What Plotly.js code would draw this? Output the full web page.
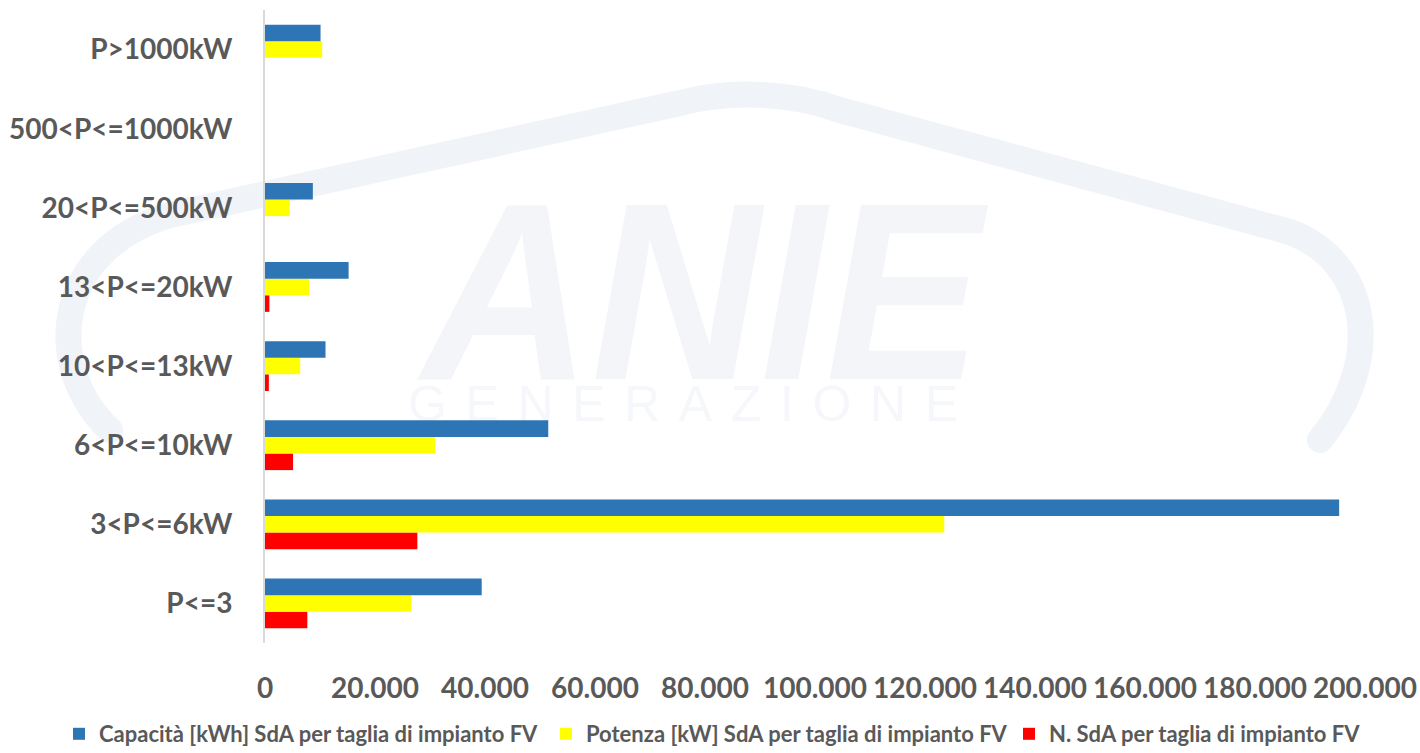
<!DOCTYPE html>
<html>
<head>
<meta charset="utf-8">
<script src="https://cdn.plot.ly/plotly-3.0.1.min.js"></script>
<style>html,body{margin:0;padding:0;background:#fff;}#chart{width:1420px;height:753px;}</style>
</head>
<body>
<div id="chart"></div>
<script>
// Categories (bottom to top)
const categories = ["P<=3", "3<P<=6kW", "6<P<=10kW", "10<P<=13kW", "13<P<=20kW", "20<P<=500kW", "500<P<=1000kW", "P>1000kW"];
// Series values
const capacita = [39400, 195300, 51500, 11000, 15200, 8700, 0, 10100];
const potenza  = [26600, 123500, 30900, 6400, 8000, 4500, 0, 10400];
const numero   = [7700, 27700, 5100, 700, 800, 0, 0, 0];
// Series names
const nameCap = "Capacità [kWh] SdA per taglia di impianto FV";
const namePot = "Potenza [kW] SdA per taglia di impianto FV";
const nameNum = "N. SdA per taglia di impianto FV";
// X tick values
const xTicks = [0, 20000, 40000, 60000, 80000, 100000, 120000, 140000, 160000, 180000, 200000];

const font = "Lato, 'Open Sans', sans-serif";
const grey = "#595959";

const traces = [
  {type: "bar", orientation: "h", name: nameNum, y: categories, x: numero, marker: {color: "#FF0000"}, legend: "legend3"},
  {type: "bar", orientation: "h", name: namePot, y: categories, x: potenza, marker: {color: "#FFFF00"}, legend: "legend2"},
  {type: "bar", orientation: "h", name: nameCap, y: categories, x: capacita, marker: {color: "#2E75B6"}, legend: "legend"}
];

// Faint background logo (watermark), drawn behind the bars
const wmSvg =
  "<svg xmlns='http://www.w3.org/2000/svg' width='1420' height='753' viewBox='0 0 1420 753'>" +
  "<path d='M 110 430 C 45 370 50 250 170 215 L 680 103 C 730 90 790 92 840 110 L 1290 232 C 1370 262 1385 360 1320 440' fill='none' stroke='#f0f3f8' stroke-width='26' stroke-linecap='round'/>" +
  "<text x='702' y='379' text-anchor='middle' font-family='Liberation Sans, sans-serif' font-weight='bold' font-style='italic' font-size='252' fill='#f3f5f9' textLength='560' lengthAdjust='spacingAndGlyphs'>ANIE</text>" +
  "<text x='683' y='421' text-anchor='middle' font-family='Liberation Sans, sans-serif' font-size='50' fill='#f5f7fa' textLength='550' lengthAdjust='spacing'>GENERAZIONE</text>" +
  "</svg>";
const wmSrc = "data:image/svg+xml;charset=utf-8," + encodeURIComponent(wmSvg);

const legendFont = {family: font, size: 22, color: grey, weight: "bold"};
function legendAt(px) {
  return {
    orientation: "h", xref: "container", yref: "container",
    x: px / 1420, xanchor: "left", y: 1 - 734 / 753, yanchor: "middle",
    font: legendFont, itemwidth: 30, bgcolor: "rgba(0,0,0,0)"
  };
}

const layout = {
  width: 1420, height: 753,
  margin: {l: 265, r: 55, t: 10, b: 110},
  paper_bgcolor: "#ffffff", plot_bgcolor: "rgba(0,0,0,0)",
  separators: ",.",
  barmode: "group",
  bargap: 0.37,
  bargroupgap: 0,
  hovermode: false,
  showlegend: true,
  font: {family: font, color: grey},
  xaxis: {
    range: [0, 200000], tickvals: xTicks, tickformat: ",d",
    showgrid: false, zeroline: false, showline: false, ticks: "",
    tickfont: {family: font, size: 28, color: grey, weight: "bold"},
    ticklabelstandoff: 26, fixedrange: true
  },
  yaxis: {
    type: "category", categoryorder: "array", categoryarray: categories,
    showgrid: false, zeroline: false, showline: true, linecolor: "#d9d9d9", linewidth: 2,
    ticks: "", tickfont: {family: font, size: 28, color: grey, weight: "bold"},
    ticklabelstandoff: 25, fixedrange: true
  },
  legend: legendAt(59),
  legend2: legendAt(546),
  legend3: legendAt(1009),
  images: [
    {source: wmSrc, xref: "paper", yref: "paper",
     x: -265 / 1100, y: 1 + 10 / 633, sizex: 1420 / 1100, sizey: 753 / 633,
     xanchor: "left", yanchor: "top", sizing: "stretch", layer: "below"}
  ]
};

Plotly.newPlot("chart", traces, layout, {displayModeBar: false, staticPlot: true});
</script>
</body>
</html>
